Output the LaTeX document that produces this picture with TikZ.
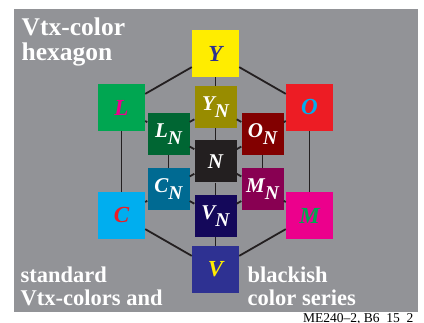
\documentclass[tikz,border=0pt]{standalone}
\usepackage{fontspec}
\setmainfont{Liberation Serif}
\definecolor{bg}{RGB}{146,147,151}
\definecolor{linec}{RGB}{35,31,32}
\definecolor{cY}{RGB}{255,237,0}
\definecolor{cL}{RGB}{0,166,81}
\definecolor{cO}{RGB}{237,28,36}
\definecolor{cC}{RGB}{0,174,239}
\definecolor{cM}{RGB}{236,0,140}
\definecolor{cV}{RGB}{46,49,146}
\definecolor{cYN}{RGB}{152,140,0}
\definecolor{cLN}{RGB}{0,102,51}
\definecolor{cON}{RGB}{130,0,0}
\definecolor{cN}{RGB}{35,31,32}
\definecolor{cCN}{RGB}{0,106,146}
\definecolor{cMN}{RGB}{136,0,82}
\definecolor{cVN}{RGB}{20,8,90}
\newcommand{\sublbl}[1]{#1\raisebox{-7pt}{\fontsize{19.5}{19.5}\selectfont N}}
\begin{document}
\begin{tikzpicture}[x=1pt,y=-1pt,
  outerbox/.style={minimum size=47pt, inner sep=0pt, font=\fontsize{23}{23}\selectfont\bfseries\itshape},
  innerbox/.style={minimum size=42pt, inner sep=0pt, text=white, font=\fontsize{21}{21}\selectfont\bfseries\itshape},
  conn/.style={draw=linec, line width=1.8pt},
  titletext/.style={anchor=base west, inner sep=0pt, text=white, font=\fontsize{25.5}{25.5}\selectfont\bfseries},
  bottomtext/.style={anchor=base west, inner sep=0pt, text=white, font=\fontsize{22.5}{22.5}\selectfont\bfseries}]
\useasboundingbox (0,0) rectangle (424,323);
\fill[white] (0,0) rectangle (424,323);
\fill[bg] (14,9) rectangle (418,312);
% outer
\node[outerbox, fill=cY, text=cV] (Y) at (215.5,53.5) {Y};
\node[outerbox, fill=cL, text=cM] (L) at (121.5,107.5) {L};
\node[outerbox, fill=cO, text=cC] (O) at (309.5,107.5) {O};
\node[outerbox, fill=cC, text=cO] (C) at (121.5,215.5) {C};
\node[outerbox, fill=cM, text=cL] (M) at (309.5,215.5) {M};
\node[outerbox, fill=cV, text=cY] (V) at (215.5,269.5) {V};
% inner
\node[innerbox, fill=cYN] (YN) at (215.5,107) {\sublbl{Y}};
\node[innerbox, fill=cLN] (LN) at (168.5,134.25) {\sublbl{L}};
\node[innerbox, fill=cON] (ON) at (262.5,134.25) {\sublbl{O}};
\node[innerbox, fill=cN] (N) at (215.5,161.5) {N};
\node[innerbox, fill=cCN] (CN) at (168.5,188.75) {\sublbl{C}};
\node[innerbox, fill=cMN] (MN) at (262.5,188.75) {\sublbl{M}};
\node[innerbox, fill=cVN] (VN) at (215.5,216) {\sublbl{V}};
% outer hexagon
\draw[conn] (Y) -- (L);
\draw[conn] (Y) -- (O);
\draw[conn] (L) -- (C);
\draw[conn] (O) -- (M);
\draw[conn] (C) -- (V);
\draw[conn] (M) -- (V);
% inner hexagon
\draw[conn] (YN) -- (LN);
\draw[conn] (YN) -- (ON);
\draw[conn] (LN) -- (CN);
\draw[conn] (ON) -- (MN);
\draw[conn] (CN) -- (VN);
\draw[conn] (MN) -- (VN);
% radial
\draw[conn] (Y) -- (YN);
\draw[conn] (YN) -- (N);
\draw[conn] (N) -- (VN);
\draw[conn] (VN) -- (V);
\draw[conn] (L) -- (LN);
\draw[conn] (LN) -- (N);
\draw[conn] (N) -- (MN);
\draw[conn] (MN) -- (M);
\draw[conn] (O) -- (ON);
\draw[conn] (ON) -- (N);
\draw[conn] (N) -- (CN);
\draw[conn] (CN) -- (C);
% texts
\node[titletext] (t1) at (21.5,35.5) {Vtx-color};
\node[titletext] (t2) at (21.5,60.5) {hexagon};
\node[bottomtext] (b1) at (20.5,282.5) {standard};
\node[bottomtext] (b2) at (20.5,305.3) {Vtx-colors and};
\node[bottomtext] (b3) at (247.5,282.5) {blackish};
\node[bottomtext] (b4) at (247.5,305.3) {color series};
\node[anchor=base west, inner sep=0pt, font=\fontsize{13.5}{13.5}\selectfont] (code) at (303,322.5) {ME240--2, B6\_15\_2};
\end{tikzpicture}
\end{document}
